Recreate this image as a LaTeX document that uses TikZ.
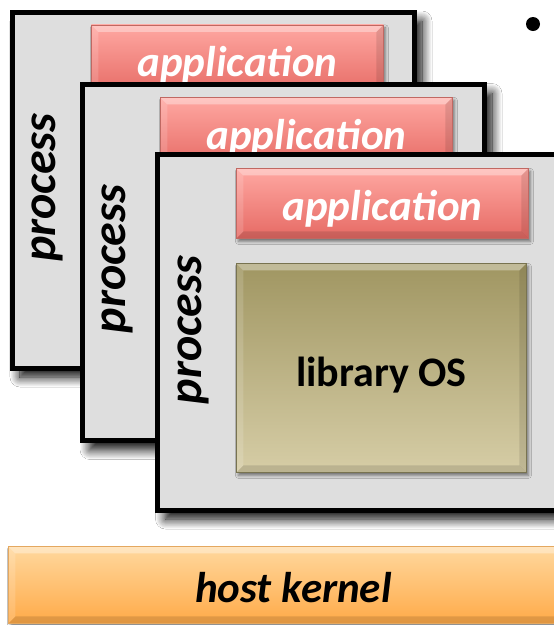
\documentclass[tikz,border=0pt]{standalone}
\usepackage{fontspec}
\setmainfont{Carlito}
\usetikzlibrary{shadows.blur}
\definecolor{procfill}{RGB}{222,222,222}
\definecolor{apptop}{RGB}{255,168,162}
\definecolor{appbot}{RGB}{230,106,100}
\definecolor{appborder}{RGB}{192,104,98}
\definecolor{libtop}{RGB}{160,150,98}
\definecolor{libbot}{RGB}{214,205,166}
\definecolor{libborder}{RGB}{120,115,80}
\definecolor{hktop}{RGB}{255,216,158}
\definecolor{hkbot}{RGB}{255,170,72}
\definecolor{hkborder}{RGB}{228,168,96}
\tikzset{
  x=1pt, y=-1pt,
  procshadow/.style={blur shadow={shadow xshift=8pt, shadow yshift=-9pt, shadow blur radius=10pt, shadow blur steps=12, shadow opacity=100}},
  boxshadow/.style={blur shadow={shadow xshift=2pt, shadow yshift=-3pt, shadow blur radius=3pt, shadow opacity=50}},
  procbox/.style={draw=black, line width=5pt, fill=procfill, minimum width=402pt, minimum height=356pt,
    anchor=north west, inner sep=0pt, procshadow},
  bevel/.style={path picture={
    \fill[white,opacity=0.35] (path picture bounding box.north west) -- (path picture bounding box.north east)
      -- ([xshift=-#1,yshift=-#1]path picture bounding box.north east) -- ([xshift=#1,yshift=-#1]path picture bounding box.north west) -- cycle;
    \fill[white,opacity=0.15] (path picture bounding box.north west) -- ([xshift=#1,yshift=-#1]path picture bounding box.north west)
      -- ([xshift=#1,yshift=#1]path picture bounding box.south west) -- (path picture bounding box.south west) -- cycle;
    \fill[black,opacity=0.10] (path picture bounding box.north east) -- ([xshift=-#1,yshift=-#1]path picture bounding box.north east)
      -- ([xshift=-#1,yshift=#1]path picture bounding box.south east) -- (path picture bounding box.south east) -- cycle;
    \fill[black,opacity=0.12] (path picture bounding box.south west) -- (path picture bounding box.south east)
      -- ([xshift=-#1,yshift=#1]path picture bounding box.south east) -- ([xshift=#1,yshift=#1]path picture bounding box.south west) -- cycle;
  }},
  appbox/.style={draw=appborder, line width=0.8pt, top color=apptop, bottom color=appbot,
    minimum width=292pt, minimum height=70pt, anchor=north west, inner sep=0pt, bevel=7pt, boxshadow,
    text=white, text height=42pt, text depth=8pt, font=\fontsize{43}{43}\selectfont\bfseries\itshape},
  libbox/.style={draw=libborder, line width=0.8pt, top color=libtop, bottom color=libbot,
    minimum width=290pt, minimum height=209pt, anchor=north west, inner sep=0pt, bevel=7pt, boxshadow,
    text height=47pt, text depth=9pt, font=\fontsize{42}{42}\selectfont\bfseries},
  hkbox/.style={draw=hkborder, line width=0.8pt, top color=hktop, bottom color=hkbot,
    minimum width=570pt, minimum height=77pt, anchor=north west, inner sep=0pt, bevel=7pt, boxshadow,
    text height=44pt, text depth=8pt, font=\fontsize{43}{43}\selectfont\bfseries\itshape},
  proclabel/.style={rotate=90, font=\fontsize{48}{48}\selectfont\bfseries\itshape, inner sep=0pt}
}
\begin{document}
\begin{tikzpicture}
\useasboundingbox[fill=white] (0,0) rectangle (554,625);
% back process
\node[procbox] (p1) at (9.5,9.5) {};
\node[appbox] (a1) at (91,24.5) {application};
\node[proclabel] (l1) at (47,187.5) {process};
% middle process
\node[procbox] (p2) at (79.5,82) {};
\node[appbox] (a2) at (160,97) {application};
\node[proclabel] (l2) at (117,259) {process};
% front process
\node[procbox] (p3) at (155,151.5) {};
\node[appbox] (a3) at (236,168) {application};
\node[proclabel] (l3) at (193,330) {process};
\node[libbox] (lib) at (236,263) {library OS};
% host kernel
\node[hkbox] (hk) at (8,546) {host kernel};
% bullet
\fill (533,24) circle (7pt);
\end{tikzpicture}
\end{document}
